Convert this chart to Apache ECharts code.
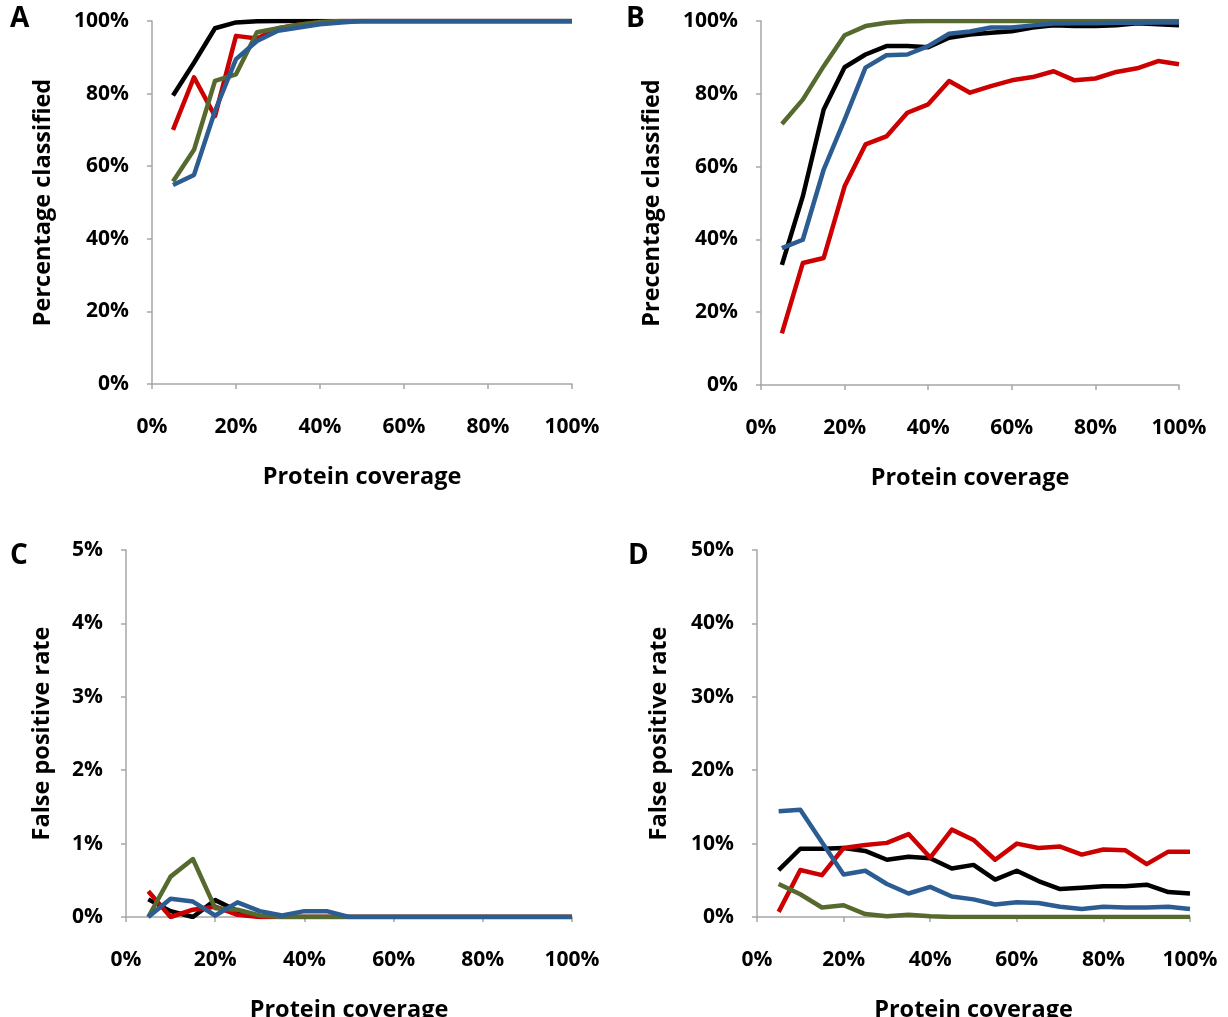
<!DOCTYPE html>
<html>
<head>
<meta charset="utf-8">
<script src="https://cdn.jsdelivr.net/npm/echarts@6/dist/echarts.min.js"></script>
<style>
html,body{margin:0;padding:0;background:#fff;}
#chart{width:1228px;height:1017px;}
</style>
</head>
<body>
<div id="chart"></div>
<script>
// Protein coverage (%)
var coverage = [5,10,15,20,25,30,35,40,45,50,55,60,65,70,75,80,85,90,95,100];

// Panel A: Percentage classified (%)
var aBlack = [79.5,88.5,98,99.6,99.9,100,100,100,100,100,100,100,100,100,100,100,100,100,100,100];
var aRed   = [70,84.5,73.8,95.9,95.2,98,99,99.6,100,100,100,100,100,100,100,100,100,100,100,100];
var aGreen = [55.8,64.5,83.5,85.3,96.9,98,99,99.7,100,100,100,100,100,100,100,100,100,100,100,100];
var aBlue  = [54.8,57.6,75.2,89.5,94.5,97.3,98.2,99.1,99.6,100,100,100,100,100,100,100,100,100,100,100];

// Panel B: Precentage classified (%)
var bBlack = [33,51.8,75.7,87.3,90.8,93.1,93.1,92.8,95.4,96.3,96.8,97.2,98.2,98.8,98.6,98.6,98.8,99.4,99.1,98.8];
var bRed   = [14.2,33.5,34.9,54.6,66.1,68.3,74.8,77.1,83.5,80.3,82.1,83.7,84.6,86.2,83.7,84.2,86,87,89,88.1];
var bGreen = [71.7,78.4,87.6,96.1,98.6,99.5,99.9,100,100,100,100,100,100,100,100,100,100,100,100,100];
var bBlue  = [37.6,39.9,59.2,72.9,87.2,90.6,90.8,93.1,96.5,97.1,98.2,98.2,98.8,99.3,99.4,99.4,99.5,99.5,99.6,99.6];

// Panel C: False positive rate (%)
var cBlack = [0.24,0.08,0,0.23,0.08,0,0,0,0,0,0,0,0,0,0,0,0,0,0,0];
var cRed   = [0.35,0,0.1,0.14,0.03,0,0,0,0,0,0,0,0,0,0,0,0,0,0,0];
var cGreen = [0,0.55,0.79,0.12,0.1,0.02,0,0,0,0,0,0,0,0,0,0,0,0,0,0];
var cBlue  = [0,0.25,0.21,0.02,0.2,0.08,0.02,0.08,0.08,0,0,0,0,0,0,0,0,0,0,0];

// Panel D: False positive rate (%)
var dBlack = [6.4,9.3,9.3,9.4,9.0,7.8,8.2,8.0,6.6,7.1,5.1,6.3,4.9,3.8,4.0,4.2,4.2,4.4,3.4,3.2];
var dRed   = [0.7,6.4,5.7,9.4,9.8,10.1,11.3,8.1,11.9,10.5,7.8,10.0,9.4,9.6,8.5,9.2,9.1,7.2,8.9,8.9];
var dGreen = [4.5,3.1,1.3,1.6,0.4,0.1,0.3,0.1,0,0,0,0,0,0,0,0,0,0,0,0];
var dBlue  = [14.4,14.6,10.2,5.8,6.3,4.5,3.2,4.1,2.8,2.4,1.7,2.0,1.9,1.4,1.1,1.4,1.3,1.3,1.4,1.1];

var panelLetters = ['A','B','C','D'];
var yNames = ['Percentage classified','Precentage classified','False positive rate','False positive rate'];
var xName = 'Protein coverage';
var yMax = [100,100,5,50];
var yInterval = [20,20,1,10];

var FONT = 'Open Sans';
var colors = {black:'#000000', red:'#cc0000', green:'#56692e', blue:'#2b5d92'};
var grids = [
  {left:152, top:21, width:420, height:363},
  {left:761, top:21, width:418, height:364},
  {left:126, top:550, width:446, height:367},
  {left:757, top:550, width:433, height:367}
];
var letterPos = [[10,5],[626,5],[10,542],[628,542]];
var yNameGap = [97, 97, 72, 86];

function pairs(vals){ return coverage.map(function(c,i){ return [c, vals[i]]; }); }

var panelData = [
  [aBlack,aRed,aGreen,aBlue],
  [bBlack,bRed,bGreen,bBlue],
  [cBlack,cRed,cGreen,cBlue],
  [dBlack,dRed,dGreen,dBlue]
];
var order = ['black','red','green','blue'];

var axisLineStyle = {lineStyle:{color:'#a6a6a6', width:1.5}};
var axisTickStyle = {show:true, inside:false, length:5, lineStyle:{color:'#a6a6a6', width:1.5}};
var labelStyle = {fontFamily:FONT, fontWeight:'bold', fontSize:21, color:'#000'};
var nameStyle = {fontFamily:FONT, fontWeight:'bold', fontSize:23.5, color:'#000'};

var xAxes = [], yAxes = [], series = [], titles = [];
for (var p = 0; p < 4; p++) {
  xAxes.push({
    type:'value', gridIndex:p, min:0, max:100, interval:20,
    name:xName, nameLocation:'middle', nameGap:81, nameTextStyle:nameStyle,
    axisLine:axisLineStyle, axisTick:axisTickStyle, splitLine:{show:false},
    axisLabel:Object.assign({formatter:'{value}%', margin:33}, labelStyle)
  });
  yAxes.push({
    type:'value', gridIndex:p, min:0, max:yMax[p], interval:yInterval[p],
    name:yNames[p], nameLocation:'middle', nameRotate:90, nameGap:yNameGap[p], nameTextStyle:nameStyle,
    axisLine:Object.assign({show:true}, axisLineStyle), axisTick:axisTickStyle, splitLine:{show:false},
    axisLabel:Object.assign({formatter:'{value}%', margin:23}, labelStyle)
  });
  for (var s = 0; s < 4; s++) {
    series.push({
      type:'line', xAxisIndex:p, yAxisIndex:p,
      data:pairs(panelData[p][s]),
      symbol:'none', showSymbol:false,
      lineStyle:{color:colors[order[s]], width:4.5, join:'round'},
      itemStyle:{color:colors[order[s]]},
      z:2+s
    });
  }
  titles.push({
    text:panelLetters[p], left:letterPos[p][0], top:letterPos[p][1], padding:0,
    textStyle:{fontFamily:FONT, fontWeight:'bold', fontSize:28, color:'#000'}
  });
}

var chart = echarts.init(document.getElementById('chart'), null, {renderer:'canvas'});
chart.setOption({
  animation:false,
  backgroundColor:'#ffffff',
  title:titles,
  grid:grids.map(function(g){ return Object.assign({containLabel:false, outerBoundsMode:'none'}, g); }),
  xAxis:xAxes,
  yAxis:yAxes,
  series:series
});
</script>
</body>
</html>
